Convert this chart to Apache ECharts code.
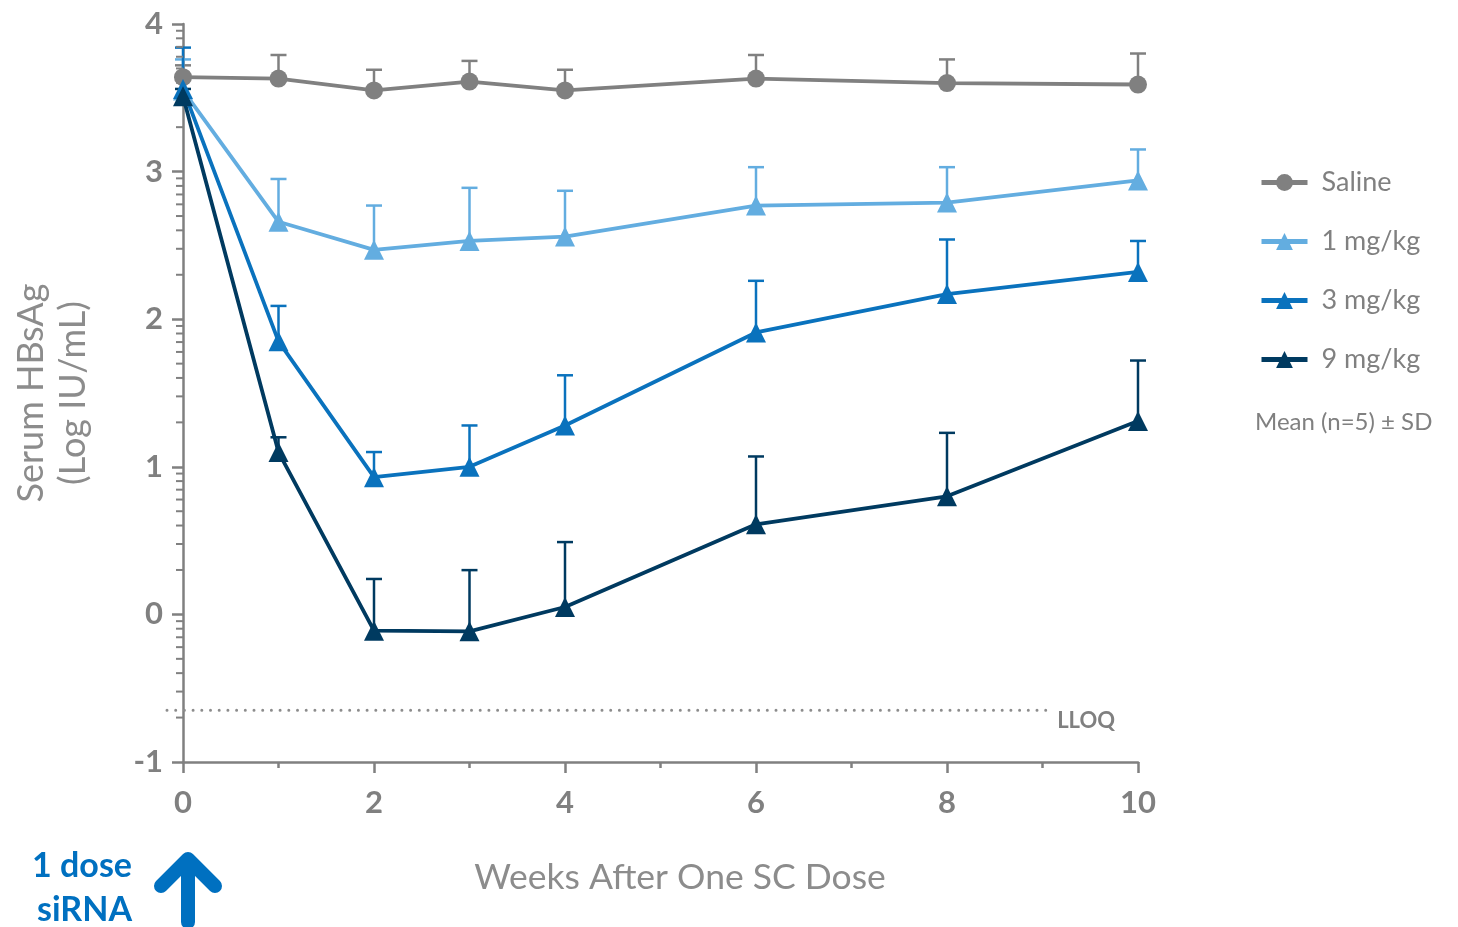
<!DOCTYPE html>
<html><head><meta charset="utf-8">
<script src="https://cdn.jsdelivr.net/npm/echarts@6/dist/echarts.min.js"></script>
<style>html,body{margin:0;padding:0;background:#fff}#c{width:1458px;height:927px}</style>
</head><body><div id="c"></div>
<script>
const weeks=[0,1,2,3,4,6,8,10];
const seriesNames=['Saline','1 mg/kg','3 mg/kg','9 mg/kg'];
const saline=[3.64,3.63,3.55,3.61,3.55,3.63,3.60,3.59];
const salineUpper=[3.72,3.79,3.69,3.75,3.69,3.79,3.76,3.80];
const dose1=[3.55,2.66,2.47,2.53,2.56,2.77,2.79,2.94];
const dose1Upper=[3.76,2.95,2.77,2.89,2.87,3.03,3.03,3.15];
const dose3=[3.56,1.85,0.93,1.00,1.28,1.91,2.17,2.32];
const dose3Upper=[3.84,2.09,1.10,1.28,1.62,2.26,2.54,2.53];
const dose9=[3.51,1.10,-0.11,-0.115,0.05,0.61,0.80,1.31];
const dose9Upper=[3.56,1.20,0.24,0.30,0.49,1.07,1.23,1.72];
const lloq=-0.65;
const lloqEndWeek=9.08;

const colors=['#808080','#63ade0','#0a72bd','#003a60'];
const grey='#808080';
const FONT='Lato';

// log-style minor ticks on the y axis (between integer ticks)
const yMinor=[];
for(let b=-1;b<4;b++){for(let k=2;k<=9;k++){yMinor.push([0,b+Math.log10(k)]);}}

function pairs(m,u){return weeks.map((w,i)=>[w,m[i],u[i]]);}
function errSeries(m,u,c){
  return {type:'custom',silent:true,z:1,data:pairs(m,u),
    renderItem:function(params,api){
      const p0=api.coord([api.value(0),api.value(1)]);
      const p1=api.coord([api.value(0),api.value(2)]);
      return {type:'group',children:[
        {type:'line',shape:{x1:p0[0],y1:p0[1],x2:p1[0],y2:p1[1]},style:{stroke:c,lineWidth:2.5}},
        {type:'line',shape:{x1:p1[0]-8,y1:p1[1],x2:p1[0]+8,y2:p1[1]},style:{stroke:c,lineWidth:2.5}}
      ]};
    }};
}
function lineSeries(name,m,c,sym,size){
  return {name:name,type:'line',z:3,data:weeks.map((w,i)=>[w,m[i]]),
    symbol:sym,symbolSize:size,showSymbol:true,
    lineStyle:{color:c,width:3.8},itemStyle:{color:c},emphasis:{disabled:true}};
}

const chart=echarts.init(document.getElementById('c'),null,{renderer:'canvas'});
chart.setOption({
  animation:false,
  backgroundColor:'#fff',
  grid:{left:183,right:320,top:24,bottom:165,containLabel:false},
  xAxis:{type:'value',min:0,max:10,interval:2,
    axisLine:{onZero:false,lineStyle:{color:grey,width:2.5}},
    axisTick:{length:11,lineStyle:{color:grey,width:2.5}},
    minorTick:{show:true,splitNumber:2,length:6,lineStyle:{color:grey,width:2.5}},
    splitLine:{show:false},
    axisLabel:{color:grey,fontFamily:FONT,fontWeight:'bold',fontSize:31,margin:25}},
  yAxis:{type:'value',min:-1,max:4,interval:1,
    axisLine:{show:true,lineStyle:{color:grey,width:2.5}},
    axisTick:{show:true,length:11,lineStyle:{color:grey,width:2.5}},
    splitLine:{show:false},
    axisLabel:{color:grey,fontFamily:FONT,fontWeight:'bold',fontSize:31,margin:20,padding:[0,0,14,0]}},
  legend:{orient:'vertical',left:1254,top:164,itemWidth:46,itemHeight:21,itemGap:32,
    data:seriesNames,
    lineStyle:{width:5},
    textStyle:{color:grey,fontFamily:FONT,fontSize:27,padding:[0,0,0,9]}},
  series:[
    {type:'custom',silent:true,data:yMinor,z:2,
      renderItem:function(params,api){
        const p=api.coord([0,api.value(1)]);
        return {type:'line',shape:{x1:p[0]-7,y1:p[1],x2:p[0],y2:p[1]},style:{stroke:grey,lineWidth:2}};
      }},
    {type:'custom',silent:true,data:[[lloq]],z:2,
      renderItem:function(params,api){
        const a=api.coord([0,api.value(0)]);
        const b=api.coord([lloqEndWeek,api.value(0)]);
        return {type:'group',children:[
          {type:'line',shape:{x1:a[0]-16,y1:a[1],x2:b[0],y2:b[1]},
            style:{stroke:'#8c8c8c',lineWidth:3,lineDash:[0,8.7],lineCap:'round'}},
          {type:'text',x:b[0]+7,y:b[1]+11,style:{text:'LLOQ',fill:grey,font:'bold 22px '+FONT,align:'left',verticalAlign:'middle'}}
        ]};
      }},
    errSeries(saline,salineUpper,colors[0]),
    errSeries(dose1,dose1Upper,colors[1]),
    errSeries(dose3,dose3Upper,colors[2]),
    errSeries(dose9,dose9Upper,colors[3]),
    lineSeries(seriesNames[0],saline,colors[0],'circle',18),
    lineSeries(seriesNames[1],dose1,colors[1],'triangle',20),
    lineSeries(seriesNames[2],dose3,colors[2],'triangle',20),
    lineSeries(seriesNames[3],dose9,colors[3],'triangle',20)
  ],
  graphic:[
    {type:'text',x:52,y:393,rotation:Math.PI/2,
      style:{text:'Serum HBsAg\n(Log IU/mL)',fill:'#8c8c8c',font:'36px '+FONT,align:'center',verticalAlign:'middle',lineHeight:42}},
    {type:'text',x:680,y:878,style:{text:'Weeks After One SC Dose',fill:'#8c8c8c',font:'35.5px '+FONT,align:'center',verticalAlign:'middle'}},
    {type:'text',x:1255,y:422,style:{text:'Mean (n=5) ± SD',fill:grey,font:'24px '+FONT,align:'left',verticalAlign:'middle'}},
    {type:'text',x:132,y:866,style:{text:'1 dose',fill:'#0070c0',font:'bold 34px '+FONT,align:'right',verticalAlign:'middle'}},
    {type:'text',x:132,y:910,style:{text:'siRNA',fill:'#0070c0',font:'bold 34px '+FONT,align:'right',verticalAlign:'middle'}},
    {type:'polyline',shape:{points:[[188,862],[188,922]]},style:{stroke:'#0070c0',lineWidth:14,lineCap:'round'}},
    {type:'polyline',shape:{points:[[161,886],[188,859],[215,886]]},style:{stroke:'#0070c0',lineWidth:14,lineCap:'round',lineJoin:'round',fill:null}}
  ]
});
</script></body></html>
